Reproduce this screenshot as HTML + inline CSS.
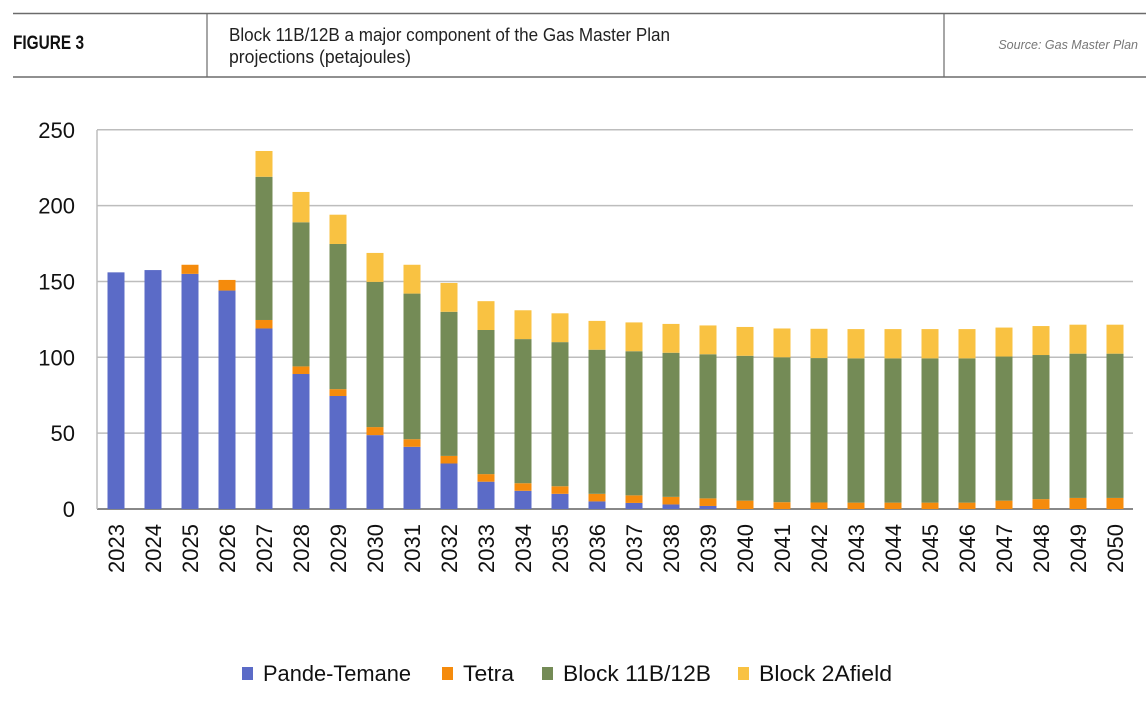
<!DOCTYPE html>
<html><head><meta charset="utf-8"><style>
body{margin:0;background:#fff;width:1146px;height:703px;overflow:hidden}
svg{display:block}
</style></head><body>
<svg width="1146" height="703" xmlns="http://www.w3.org/2000/svg" font-family="Liberation Sans, Arial, sans-serif">
<line x1="13" y1="13.5" x2="1146" y2="13.5" stroke="#6b6b6b" stroke-width="1.5"/>
<line x1="13" y1="77" x2="1146" y2="77" stroke="#6b6b6b" stroke-width="1.5"/>
<line x1="207" y1="13" x2="207" y2="77" stroke="#6b6b6b" stroke-width="1.2"/>
<line x1="944" y1="13" x2="944" y2="77" stroke="#6b6b6b" stroke-width="1.2"/>
<text x="13" y="49" font-weight="bold" font-size="19" fill="#111" textLength="71" lengthAdjust="spacingAndGlyphs">FIGURE 3</text>
<text x="229" y="41" font-size="18" fill="#222" textLength="441" lengthAdjust="spacingAndGlyphs">Block 11B/12B a major component of the Gas Master Plan</text>
<text x="229" y="63" font-size="18" fill="#222" textLength="182" lengthAdjust="spacingAndGlyphs">projections (petajoules)</text>
<text x="1138" y="49" text-anchor="end" font-style="italic" font-size="12.5" fill="#777">Source: Gas Master Plan</text>
<g id="chart"></g>
</svg>
<script>
const ns="http://www.w3.org/2000/svg",g=document.getElementById('chart');
function el(t,a,txt){const e=document.createElementNS(ns,t);for(const k in a)e.setAttribute(k,a[k]);if(txt!==undefined)e.textContent=txt;g.appendChild(e);return e;}
const y0=509,k=1.517,L=97,R=1133;
for(let v=0;v<=250;v+=50){const y=y0-v*k;el('line',{x1:L,x2:R,y1:y,y2:y,stroke:v==0?'#888':'#bdbdbd','stroke-width':v==0?2:1.5});
el('text',{x:75,y:y+8,'text-anchor':'end','font-size':22,fill:'#111'},v);}
el('line',{x1:L,x2:L,y1:130,y2:y0,stroke:'#bdbdbd','stroke-width':1.5});
const d=[[156,156,156,156],[157.5,157.5,157.5,157.5],[155,161,161,161],[144,151,151,151],
[119,124.6,219,236],[89,94,189,209],[74.5,79,174.7,194],[48.7,54,149.7,168.8],
[41,46,142,161],[30,35,130,149],[18,23,118,137],[12,17,112,131],[10,15,110,129],
[5,10,105,124],[4,9,104,123],[3,8,103,122],[2,7,102,121],[0,5.5,101,120],
[0,4.5,100,119],[0,4.3,99.5,118.8],[0,4.2,99.3,118.6],[0,4.2,99.3,118.6],[0,4.2,99.3,118.6],[0,4.2,99.3,118.6],
[0,5.5,100.5,119.6],[0,6.5,101.5,120.6],[0,7.3,102.4,121.5],[0,7.3,102.4,121.5]];
const cols=['#5b6bc7','#f58b0c','#748b56','#f9c242'];
d.forEach((r,i)=>{const cx=116+37*i;let prev=0;
r.forEach((v,j)=>{if(v>prev){el('rect',{x:cx-8.5,y:y0-v*k,width:17,height:(v-prev)*k,fill:cols[j]});prev=v;}});
el('text',{transform:`translate(${cx+8},524) rotate(-90)`,'text-anchor':'end','font-size':22,fill:'#111'},2023+i);});
const lg=[[242,'Pande-Temane',148],[442,'Tetra',51],[542,'Block 11B/12B',148],[738,'Block 2Afield',133]];
lg.forEach((l,i)=>{el('rect',{x:l[0],y:667,width:11,height:13,fill:cols[i]});
el('text',{x:l[0]+21,y:681,'font-size':22,fill:'#111',textLength:l[2],lengthAdjust:'spacingAndGlyphs'},l[1]);});
</script>
</body></html>
